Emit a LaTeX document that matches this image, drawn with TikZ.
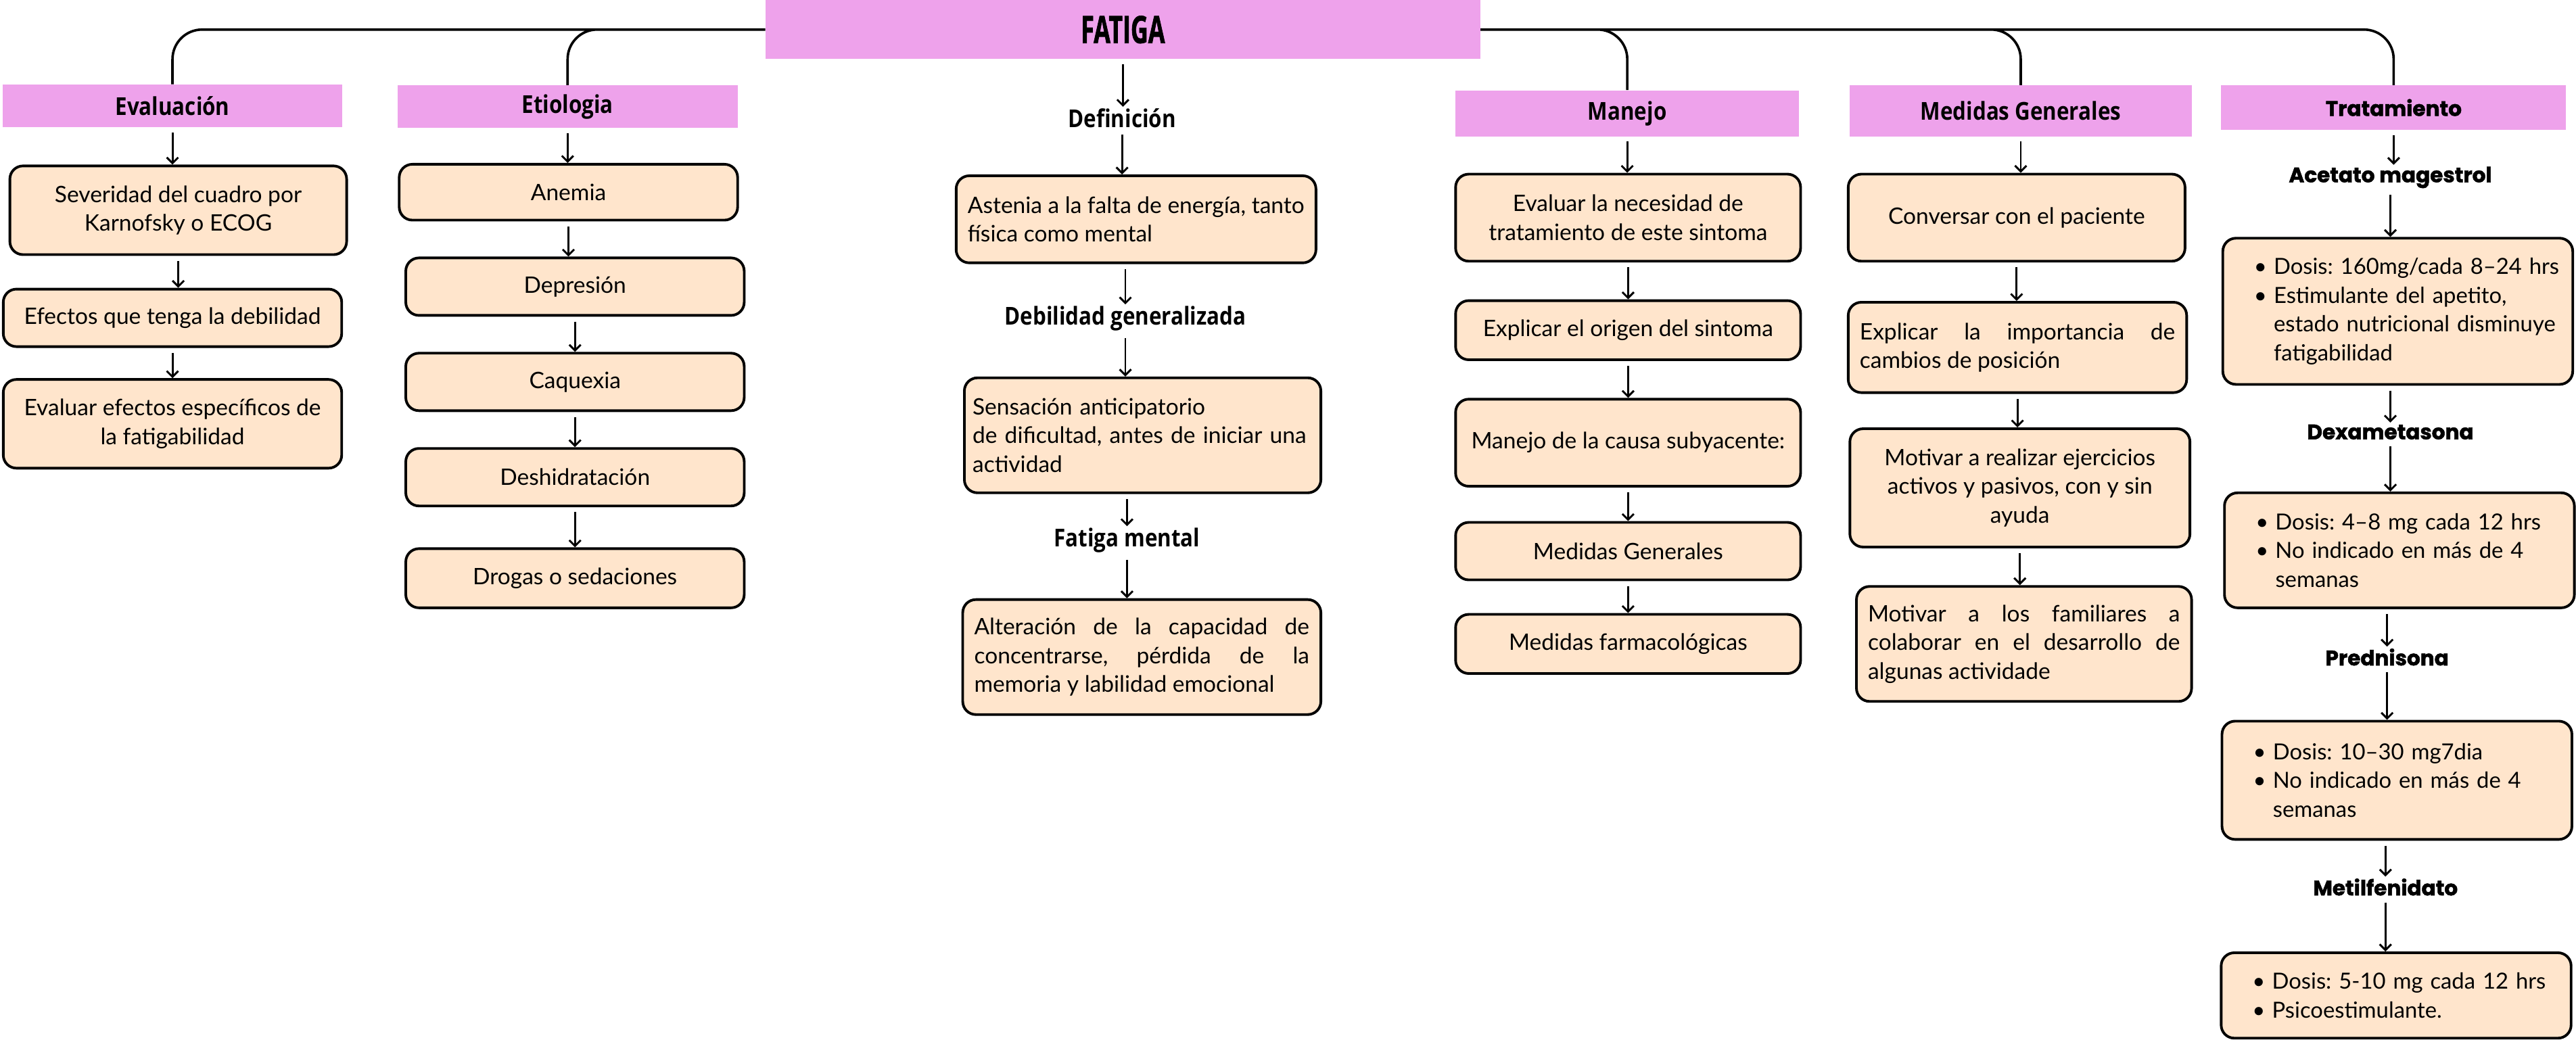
\documentclass[tikz,border=0pt]{standalone}
\usepackage{fontspec}
\setmainfont{Lato}
\newfontfamily\condfont[FakeStretch=0.86]{Open Sans}
\newfontfamily\titlefont[FakeStretch=0.64, BoldFeatures={FakeBold=1.2}]{Open Sans}
\newfontfamily\drugfont[BoldFeatures={FakeBold=1.6}]{Poppins}
\usetikzlibrary{arrows.meta, positioning}

\definecolor{headpink}{RGB}{238,162,235}
\definecolor{peach}{RGB}{255,229,204}

\newcommand{\bitem}[1]{\hangindent=26pt\hangafter=1\noindent\hspace*{14pt}\makebox[12pt][l]{\textbullet}#1\par}

\begin{document}
\frenchspacing
\begin{tikzpicture}[x=1pt, y=-1pt,
        head/.style={fill=headpink, minimum width=207pt, minimum height=26pt, inner sep=0pt, font=\condfont\bfseries\fontsize{15}{18}\selectfont},
        lab/.style={inner sep=1pt, font=\condfont\bfseries\fontsize{15}{18}\selectfont},
        drug/.style={inner sep=1pt, font=\drugfont\bfseries\fontsize{12.8}{15}\selectfont},
        box/.style={draw, fill=peach, line width=1.6pt, rounded corners=8pt, inner xsep=7pt, inner ysep=0pt, align=center, font=\fontsize{13.8}{17.5}\selectfont},
        dosebox/.style={box, inner xsep=5pt, text width=203pt, align=left, font=\fontsize{13.5}{17.5}\selectfont},
        arr/.style={-{Straight Barb[length=3.5pt, width=7pt]}, line width=1.2pt, shorten <=3pt},
        link/.style={line width=1.5pt, rounded corners=18pt}]
        \useasboundingbox (0,0) rectangle (1568,633);

        \node[fill=headpink, minimum width=435pt, minimum height=36pt, inner sep=0pt, font=\titlefont\bfseries\fontsize{23}{23}\selectfont] (fat) at (683.5,18) {FATIGA};

        \node[head] (ev) at (105,64.5) {Evaluación};
        \node[box, minimum width=205pt, minimum height=54pt] (ev1) at (108.5,128) {Severidad del cuadro por\\Karnofsky o ECOG};
        \node[box, minimum width=206pt, minimum height=35pt] (ev2) at (105,193.5) {Efectos que tenga la debilidad};
        \node[box, minimum width=206pt, minimum height=54pt] (ev3) at (105,258) {Evaluar efectos específicos de\\la fatigabilidad};

        \node[head] (et) at (345.5,65) {Etiologia};
        \node[box, minimum width=206pt, minimum height=34pt] (et1) at (346,117) {Anemia};
        \node[box, minimum width=206pt, minimum height=35pt] (et2) at (350,174.5) {Depresión};
        \node[box, minimum width=206pt, minimum height=35pt] (et3) at (350,232.5) {Caquexia};
        \node[box, minimum width=206pt, minimum height=35pt] (et4) at (350,290.5) {Deshidratación};
        \node[box, minimum width=206pt, minimum height=36pt] (et5) at (350,352) {Drogas o sedaciones};

        \node[lab] (def) at (683,72) {Definición};
        \node[box, text width=205pt, align=justify, minimum height=53pt] (d1) at (691.5,133.5) {Astenia a la falta de energía, tanto\linebreak física como mental};
        \node[lab] (deb) at (685,194) {Debilidad generalizada};
        \node[box, inner xsep=5pt, text width=207pt, align=left, minimum height=70pt] (d2) at (695.5,265) {Sensación anticipatorio\\\mbox{de dificultad, antes de iniciar una}\\actividad};
        \node[lab] (fm) at (686,329) {Fatiga mental};
        \node[box, text width=204pt, align=justify, minimum height=70pt] (d3) at (695,400) {Alteración de la capacidad de\linebreak concentrarse, pérdida de la\linebreak memoria y labilidad emocional};

        \node[head, minimum width=209pt, minimum height=28pt] (ma) at (990.5,69) {Manejo};
        \node[box, minimum width=210pt, minimum height=53pt] (ma1) at (991,132.5) {Evaluar la necesidad de\\tratamiento de este sintoma};
        \node[box, minimum width=210pt, minimum height=36pt] (ma2) at (991,201) {Explicar el origen del sintoma};
        \node[box, minimum width=210pt, minimum height=53pt] (ma3) at (991,269.5) {Manejo de la causa subyacente:};
        \node[box, minimum width=210pt, minimum height=35pt] (ma4) at (991,335.5) {Medidas Generales};
        \node[box, minimum width=210pt, minimum height=36pt] (ma5) at (991,392) {Medidas farmacológicas};

        \node[head, minimum width=208pt, minimum height=31pt] (me) at (1230,67.5) {Medidas Generales};
        \node[box, minimum width=205pt, minimum height=53pt] (me1) at (1227.5,132.5) {Conversar con el paciente};
        \node[box, text width=192pt, align=justify, minimum height=55pt] (me2) at (1228,211.5) {Explicar la importancia de\linebreak cambios de posición};
        \node[box, minimum width=207pt, minimum height=72pt] (me3) at (1229.5,297) {Motivar a realizar ejercicios\\activos y pasivos, con y sin\\ayuda};
        \node[box, text width=190pt, align=justify, minimum height=70pt] (me4) at (1232,392) {Motivar a los familiares a\linebreak colaborar en el desarrollo de\linebreak algunas actividade};

        \node[head, minimum width=210pt, minimum height=27pt, font=\drugfont\bfseries\fontsize{12.8}{15}\selectfont] (tr) at (1457,65.5) {Tratamiento};
        \node[drug] (t1) at (1455,108) {Acetato magestrol};
        \node[dosebox, minimum height=89pt] (tb1) at (1459.5,189.5) {\bitem{Dosis: 160mg/cada 8–24 hrs}\bitem{Estimulante del apetito,\newline estado nutricional disminuye\newline fatigabilidad}};
        \node[drug] (t2) at (1455,263) {Dexametasona};
        \node[dosebox, minimum height=70pt] (tb2) at (1460.5,335) {\bitem{Dosis: 4–8 mg cada 12 hrs}\bitem{No indicado en más de 4\newline semanas}};
        \node[drug] (t3) at (1453,400) {Prednisona};
        \node[dosebox, minimum height=72pt] (tb3) at (1459,475) {\bitem{Dosis: 10–30 mg7dia}\bitem{No indicado en más de 4\newline semanas}};
        \node[drug] (t4) at (1452,540) {Metilfenidato};
        \node[dosebox, minimum height=52pt] (tb4) at (1458.5,606) {\bitem{Dosis: 5-10 mg cada 12 hrs}\bitem{Psicoestimulante.}};

        \draw[link] (fat.west) -| (ev.north)
            (fat.west) -| (et.north)
            (fat.east) -| (ma.north)
            (fat.east) -| (me.north)
            (fat.east) -| (tr.north);

        \draw[arr] (ev.south) -- (ev.south |- ev1.north);
        \draw[arr] (ev1.south) -- (ev1.south |- ev2.north);
        \draw[arr] (ev2.south) -- (ev2.south |- ev3.north);

        \draw[arr] (et.south) -- (et.south |- et1.north);
        \draw[arr] (et1.south) -- (et1.south |- et2.north);
        \draw[arr] (et2.south) -- (et2.south |- et3.north);
        \draw[arr] (et3.south) -- (et3.south |- et4.north);
        \draw[arr] (et4.south) -- (et4.south |- et5.north);

        \draw[arr] (fat.south) -- (fat.south |- def.north);
        \draw[arr] (def.south) -- (def.south |- d1.north);
        \draw[arr] (d1.south -| deb) -- (deb.north);
        \draw[arr] (deb.south) -- (deb.south |- d2.north);
        \draw[arr] (d2.south -| fm) -- (fm.north);
        \draw[arr] (fm.south) -- (fm.south |- d3.north);

        \draw[arr] (ma.south) -- (ma.south |- ma1.north);
        \draw[arr] (ma1.south) -- (ma1.south |- ma2.north);
        \draw[arr] (ma2.south) -- (ma2.south |- ma3.north);
        \draw[arr] (ma3.south) -- (ma3.south |- ma4.north);
        \draw[arr] (ma4.south) -- (ma4.south |- ma5.north);

        \draw[arr] (me.south) -- (me.south |- me1.north);
        \draw[arr] (me1.south) -- (me1.south |- me2.north);
        \draw[arr] (me2.south) -- (me2.south |- me3.north);
        \draw[arr] (me3.south) -- (me3.south |- me4.north);

        \draw[arr] (tr.south) -- (tr.south |- t1.north);
        \draw[arr] (t1.south) -- (t1.south |- tb1.north);
        \draw[arr] (tb1.south -| t2) -- (t2.north);
        \draw[arr] (t2.south) -- (t2.south |- tb2.north);
        \draw[arr] (tb2.south -| t3) -- (t3.north);
        \draw[arr] (t3.south) -- (t3.south |- tb3.north);
        \draw[arr] (tb3.south -| t4) -- (t4.north);
        \draw[arr] (t4.south) -- (t4.south |- tb4.north);
    \end{tikzpicture}
\end{document}
